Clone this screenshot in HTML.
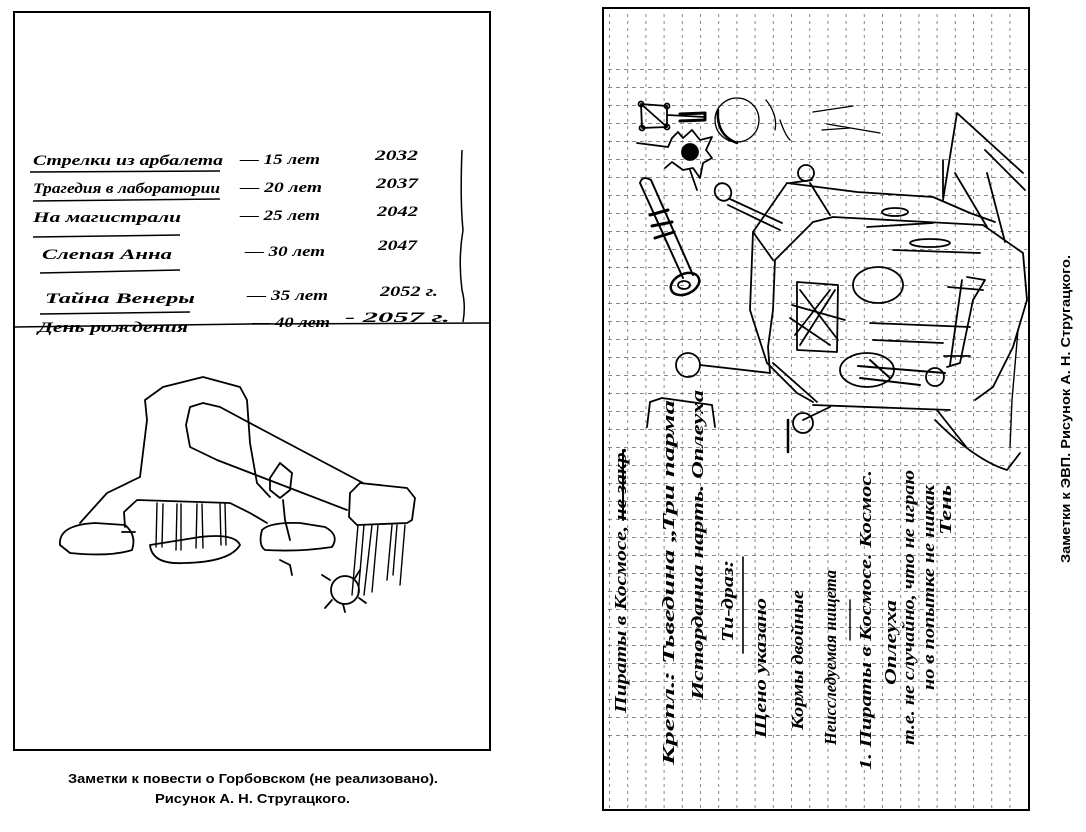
<!DOCTYPE html>
<html><head><meta charset="utf-8"><style>
html,body{margin:0;padding:0;background:#fff;}
svg{display:block;}
.h{font-family:"Liberation Serif",serif;font-style:italic;font-weight:bold;fill:#000;}
.c{font-family:"Liberation Sans",sans-serif;font-weight:bold;fill:#000;}
</style></head><body>
<svg width="1086" height="832" viewBox="0 0 1086 832" xmlns="http://www.w3.org/2000/svg">
<defs>
<pattern id="gv" x="609" y="0" width="18.2" height="832" patternUnits="userSpaceOnUse">
<line x1="0.5" y1="0" x2="0.5" y2="832" stroke="#555" stroke-width="1" stroke-dasharray="3 4"/>
</pattern>
<pattern id="gh" x="0" y="15" width="1086" height="18" patternUnits="userSpaceOnUse">
<line x1="0" y1="0.5" x2="1086" y2="0.5" stroke="#555" stroke-width="1" stroke-dasharray="4 4"/>
</pattern>
</defs>

<!-- LEFT PANEL -->
<g fill="none" stroke="#000">
<path d="M14 12 H490 V750 H14 Z" stroke-width="2"/>
<path d="M14 327 L250 324 L490 323" stroke-width="1.5"/>
<path d="M462 150 Q460 200 463 230 Q458 260 462 290 Q466 305 463 322" stroke-width="1.5"/>
<g stroke-width="1.5">
<path d="M30 172 L220 171"/><path d="M33 201 L220 199"/><path d="M33 237 L180 235"/>
<path d="M40 273 L180 270"/><path d="M40 314 L190 312"/>
</g>
</g>
<g class="h" font-size="15">
<text x="33" y="165" textLength="190" lengthAdjust="spacingAndGlyphs">Стрелки из арбалета</text>
<text x="240" y="164" textLength="80" lengthAdjust="spacingAndGlyphs">— 15 лет</text>
<text x="375" y="160" textLength="43" lengthAdjust="spacingAndGlyphs">2032</text>
<text x="33" y="193" textLength="187" lengthAdjust="spacingAndGlyphs">Трагедия в лаборатории</text>
<text x="240" y="192" textLength="82" lengthAdjust="spacingAndGlyphs">— 20 лет</text>
<text x="376" y="188" textLength="42" lengthAdjust="spacingAndGlyphs">2037</text>
<text x="33" y="222" textLength="148" lengthAdjust="spacingAndGlyphs">На магистрали</text>
<text x="240" y="220" textLength="80" lengthAdjust="spacingAndGlyphs">— 25 лет</text>
<text x="377" y="216" textLength="41" lengthAdjust="spacingAndGlyphs">2042</text>
<text x="42" y="259" textLength="130" lengthAdjust="spacingAndGlyphs">Слепая Анна</text>
<text x="245" y="256" textLength="80" lengthAdjust="spacingAndGlyphs">— 30 лет</text>
<text x="378" y="250" textLength="39" lengthAdjust="spacingAndGlyphs">2047</text>
<text x="45" y="303" textLength="150" lengthAdjust="spacingAndGlyphs">Тайна Венеры</text>
<text x="247" y="300" textLength="81" lengthAdjust="spacingAndGlyphs">— 35 лет</text>
<text x="380" y="296" textLength="58" lengthAdjust="spacingAndGlyphs">2052 г.</text>
<text x="38" y="332" textLength="150" lengthAdjust="spacingAndGlyphs">День рождения</text>
<text x="252" y="327" textLength="78" lengthAdjust="spacingAndGlyphs">— 40 лет</text>
<text x="345" y="322" textLength="105" lengthAdjust="spacingAndGlyphs">- 2057 г.</text>
</g>

<!-- left drawing -->
<g fill="none" stroke="#000" stroke-width="1.8" stroke-linecap="round" stroke-linejoin="round">
<path d="M80 523 L107 493 L140 477 L147 420 L145 400 L163 387 L203 377 L240 387 L247 400 L250 443 L257 483 L270 497"/>
<path d="M125 527 L124 512 L137 500 L230 503 L250 513 L267 523"/>
<path d="M363 483 L263 430 L220 407 L203 403 L190 407 L186 425 L190 447 L217 460 L347 510"/>
<path d="M350 493 L360 483 L407 488 L415 498 L412 520 L407 523 L357 525 L349 517 Z"/>
<path d="M60 545 Q58 525 95 523 L125 525 Q137 535 132 550 Q110 557 70 553 Z"/>
<path d="M122 532 L135 532"/>
<path d="M150 545 Q152 565 185 563 Q230 562 240 545 Q235 533 200 537 L150 545"/>
<path d="M262 530 Q270 522 300 523 L325 527 Q340 535 332 547 Q300 552 265 550 Q258 545 262 530"/>
<path d="M290 540 L285 520 L283 500"/>
<path d="M270 478 L280 463 L292 473 L290 490 L280 498 L270 490 Z"/>
<path d="M280 560 L290 565 L292 575"/>
<circle cx="345" cy="590" r="14"/>
<path d="M330 580 L322 575 M332 600 L325 608 M355 578 L360 570 M343 604 L345 612 M359 598 L366 603"/>
<g stroke-width="1.4">
<path d="M157 503 L156 547 M163 504 L162 547 M177 504 L176 550 M181 504 L181 550 M197 504 L196 548 M202 504 L203 548 M220 504 L221 545 M225 504 L226 545"/>
<path d="M358 525 L352 595 M364 525 L358 596 M372 525 L364 595 M378 525 L372 592 M392 525 L387 580 M397 525 L393 575 M405 525 L400 585"/>
</g>
</g>
<text class="c" x="68" y="783" font-size="12.5" textLength="370" lengthAdjust="spacingAndGlyphs">Заметки к повести о Горбовском (не реализовано).</text>
<text class="c" x="155" y="803" font-size="12.5" textLength="195" lengthAdjust="spacingAndGlyphs">Рисунок А. Н. Стругацкого.</text>

<!-- RIGHT PANEL -->
<rect x="605" y="10" width="422" height="798" fill="url(#gv)" opacity="0.7"/>
<rect x="605" y="55" width="422" height="690" fill="url(#gh)" opacity="0.7"/>
<rect x="603" y="8" width="426" height="802" fill="none" stroke="#000" stroke-width="2"/>

<g fill="none" stroke="#000" stroke-width="1.8" stroke-linecap="round" stroke-linejoin="round">
<path d="M641 104 L667 106 L667 127 L642 128 Z M641 104 L667 127 M667 115 L705 117"/>
<path d="M680 114 L705 113 L705 120 L680 121" stroke-width="3"/>
<circle cx="641" cy="104" r="2.5"/><circle cx="667" cy="106" r="2.5"/><circle cx="642" cy="128" r="2.5"/><circle cx="667" cy="127" r="2.5"/>
<circle cx="690" cy="152" r="8" fill="#000"/>
<path d="M637 143 L668 147 L672 138 L678 132 L683 138 L692 130 L700 140 L712 137 L706 150 L712 158 L703 163 L700 178 L693 168 L683 170 L672 162 L665 168 M690 170 L697 190"/>
<circle cx="737" cy="120" r="22" stroke-width="1.3"/>
<path d="M718 110 Q716 135 737 143" stroke-width="2.5"/>
<path d="M766 100 Q778 115 775 130 M780 120 Q785 135 790 140 M813 112 L853 106 M827 124 L880 133 M822 130 L850 128" stroke-width="1.3"/>
<path d="M640 183 L683 278 M651 180 L693 275" stroke-width="2"/>
<path d="M640 183 Q642 175 651 180" />
<path d="M650 215 L668 210 M652 226 L672 222 M655 238 L674 232" stroke-width="3"/>
<ellipse cx="685" cy="284" rx="15" ry="10" transform="rotate(-25 685 284)" stroke-width="2.5"/>
<ellipse cx="684" cy="285" rx="6" ry="4"/>
<ellipse cx="723" cy="192" rx="8" ry="9" transform="rotate(-30 723 192)"/>
<path d="M730 199 L782 223 M728 205 L780 230"/>
<circle cx="806" cy="173" r="8"/>
<path d="M787 183 L753 232 L773 260 M810 183 L830 215 M790 183 L812 180"/>
<path d="M787 183 L857 192 L933 197 L970 213 L995 222"/>
<path d="M775 260 L813 222 L833 217 L983 225 L1023 253 L1027 300 L1013 347 L993 387 L975 400"/>
<path d="M753 232 L750 310 L767 363 L797 393 L813 402"/>
<path d="M775 260 L773 310 L768 347 L770 373"/>
<ellipse cx="878" cy="285" rx="25" ry="18"/>
<path d="M797 282 L838 285 L837 352 L797 350 Z M800 290 L838 340 M835 290 L800 345 M792 305 L845 320 M795 335 L830 290 M790 318 L830 345"/>
<path d="M967 277 L985 280 L973 300 L960 363 L947 367 M948 287 L983 290 M962 280 L950 365 M944 356 L970 356"/>
<path d="M870 323 L970 327 M873 340 L943 343 M893 250 L980 253 M867 227 L933 223"/>
<ellipse cx="930" cy="243" rx="20" ry="4"/>
<ellipse cx="895" cy="212" rx="13" ry="4"/>
<ellipse cx="867" cy="370" rx="27" ry="17"/>
<path d="M858 366 L945 373 M860 378 L920 385 M870 360 L890 378" stroke-width="2"/>
<circle cx="935" cy="377" r="9"/>
<circle cx="688" cy="365" r="12"/>
<path d="M700 365 L770 373"/>
<path d="M943 200 L957 113 L1023 173"/>
<path d="M943 160 L943 197 M955 173 L987 227 M987 173 L1005 242 M985 150 L1025 190"/>
<path d="M1018 330 L1012 400 L1010 447" stroke-width="1.4"/>
<path d="M647 427 L650 402 L662 398 L712 405 L715 427"/>
<circle cx="803" cy="423" r="10"/>
<path d="M803 420 L830 407 M813 405 L950 410 M773 363 L817 402 M937 410 L967 448 M935 420 Q975 460 1007 470 L1020 453"/>
<path d="M788 420 L788 452" stroke-width="2.5"/>
<path d="M743 557 L743 653" stroke-width="1.6"/>
<path d="M623 450 L623 520" stroke-width="2"/>
<path d="M850 600 L850 640" stroke-width="1.4"/>
</g>

<g class="h" font-size="17">
<text transform="translate(626,713) rotate(-90)" textLength="266" lengthAdjust="spacingAndGlyphs">Пираты в Космосе, не закр.</text>
<text transform="translate(674,765) rotate(-90)" textLength="365" lengthAdjust="spacingAndGlyphs">Крепл.: Тьведина „Три парма</text>
<text transform="translate(703,700) rotate(-90)" textLength="310" lengthAdjust="spacingAndGlyphs">Исторданиа нарть. Оплеуха</text>
<text transform="translate(733,642) rotate(-90)" textLength="82" lengthAdjust="spacingAndGlyphs">Ти-драз:</text>
<text transform="translate(766,738) rotate(-90)" textLength="140" lengthAdjust="spacingAndGlyphs">Щено указано</text>
<text transform="translate(803,730) rotate(-90)" textLength="140" lengthAdjust="spacingAndGlyphs">Кормы двойные</text>
<text transform="translate(836,745) rotate(-90)" textLength="175" lengthAdjust="spacingAndGlyphs">Неисследуемая нищета</text>
<text transform="translate(871,770) rotate(-90)" textLength="300" lengthAdjust="spacingAndGlyphs">1. Пираты в Космосе. Космос.</text>
<text transform="translate(896,685) rotate(-90)" textLength="85" lengthAdjust="spacingAndGlyphs">Оплеуха</text>
<text transform="translate(914,745) rotate(-90)" textLength="275" lengthAdjust="spacingAndGlyphs">т.е. не случайно, что не играю</text>
<text transform="translate(934,690) rotate(-90)" textLength="205" lengthAdjust="spacingAndGlyphs">но в попытке не никак</text>
<text transform="translate(951,535) rotate(-90)" textLength="50" lengthAdjust="spacingAndGlyphs">Тень</text>
</g>

<text class="c" transform="translate(1070,563) rotate(-90)" font-size="12.5" textLength="308" lengthAdjust="spacingAndGlyphs">Заметки к ЭВП. Рисунок А. Н. Стругацкого.</text>
</svg>
</body></html>
